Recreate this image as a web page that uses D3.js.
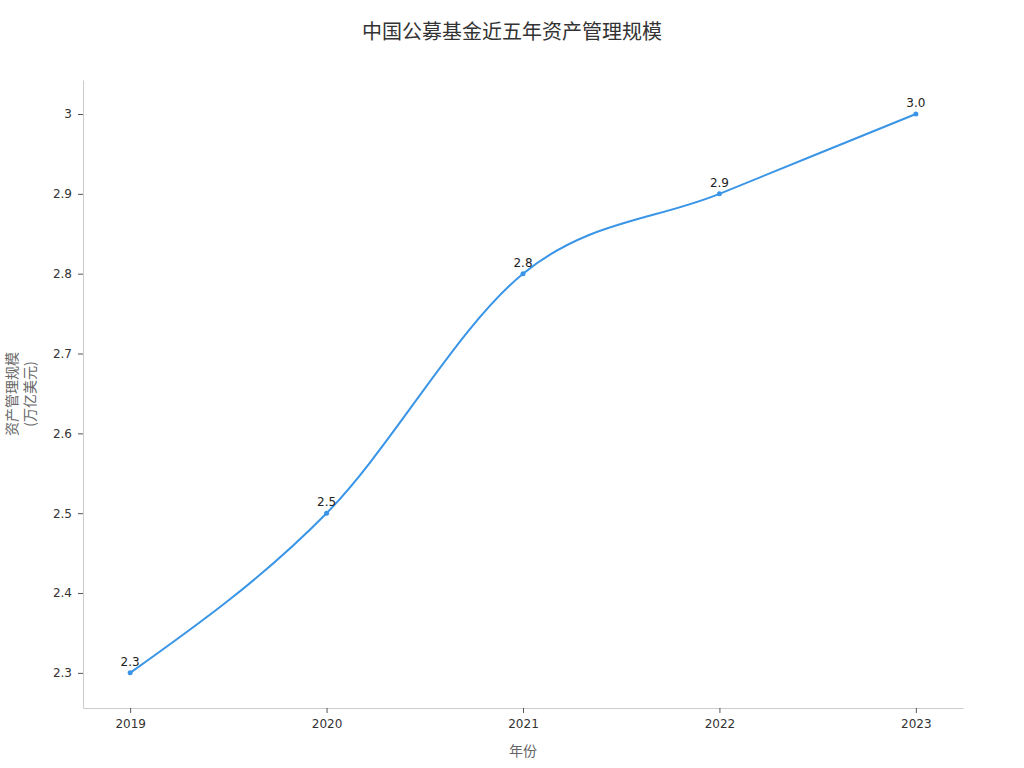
<!DOCTYPE html>
<html>
<head>
<meta charset="utf-8">
<script src="https://cdn.jsdelivr.net/npm/d3@7"></script>
<style>
  body { margin: 0; background: #fff; }
  svg { display: block; font-family: "DejaVu Sans", "Noto Sans CJK SC", sans-serif; }
</style>
</head>
<body>
<svg id="chart" width="1024" height="768"></svg>
<script>
// 中国公募基金近五年资产管理规模
const years = [2019, 2020, 2021, 2022, 2023];
const aum = [2.3, 2.5, 2.8, 2.9, 3.0];
const yTicks = [2.3, 2.4, 2.5, 2.6, 2.7, 2.8, 2.9, 3.0];

const svg = d3.select("#chart");
const plotLeft = 83, plotRight = 963, plotTop = 80, plotBottom = 708;

const x = d3.scaleLinear().domain([2018.76, 2023.24]).range([plotLeft, plotRight]);
const y = d3.scaleLinear().domain([2.256, 3.0426]).range([plotBottom, plotTop]);

const cjk = "'Noto Sans CJK SC', 'DejaVu Sans', sans-serif";

svg.append("text")
  .attr("x", 512).attr("y", 39)
  .attr("text-anchor", "middle")
  .attr("font-family", cjk)
  .attr("font-size", 20)
  .attr("fill", "#333")
  .text("中国公募基金近五年资产管理规模");

// axes
const xAxis = svg.append("g")
  .attr("transform", `translate(0,${plotBottom})`)
  .call(d3.axisBottom(x).tickValues(years).tickFormat(d3.format("d")).tickSize(5).tickPadding(6).tickSizeOuter(0));

const yAxis = svg.append("g")
  .attr("transform", `translate(${plotLeft},0)`)
  .call(d3.axisLeft(y).tickValues(yTicks).tickFormat(d => d3.format("~g")(d)).tickSize(5).tickPadding(6).tickSizeOuter(0));

[xAxis, yAxis].forEach(g => {
  g.select(".domain").attr("stroke", "#ccc");
  g.selectAll(".tick line").attr("stroke", "#555");
  g.selectAll(".tick text").attr("fill", "#333").attr("font-size", 12)
    .attr("font-family", "'DejaVu Sans', sans-serif");
});

svg.append("text")
  .attr("x", (plotLeft + plotRight) / 2).attr("y", 756)
  .attr("text-anchor", "middle")
  .attr("font-family", cjk)
  .attr("font-size", 14)
  .attr("fill", "#666")
  .text("年份");

const yl = svg.append("text")
  .attr("transform", `translate(0,${(plotTop + plotBottom) / 2}) rotate(-90)`)
  .attr("text-anchor", "middle")
  .attr("font-family", cjk)
  .attr("font-size", 14)
  .attr("fill", "#666");
yl.append("tspan").attr("x", 0).attr("y", 17).text("资产管理规模");
yl.append("tspan").attr("x", 0).attr("y", 35).text("(万亿美元)");

// line
const data = years.map((yr, i) => ({ yr, v: aum[i] }));
const line = d3.line()
  .x(d => x(d.yr))
  .y(d => y(d.v))
  .curve(d3.curveMonotoneX);

svg.append("path")
  .datum(data)
  .attr("d", line)
  .attr("fill", "none")
  .attr("stroke", "#3a95e6")
  .attr("stroke-width", 2);

svg.selectAll("circle.pt")
  .data(data)
  .join("circle")
  .attr("class", "pt")
  .attr("cx", d => x(d.yr))
  .attr("cy", d => y(d.v))
  .attr("r", 2.5)
  .attr("fill", "#3a95e6");

svg.selectAll("text.lbl")
  .data(data)
  .join("text")
  .attr("class", "lbl")
  .attr("x", d => x(d.yr))
  .attr("y", d => y(d.v) - 7)
  .attr("text-anchor", "middle")
  .attr("font-size", 12)
  .attr("fill", "#222")
  .text(d => d.v.toFixed(1));
</script>
</body>
</html>
